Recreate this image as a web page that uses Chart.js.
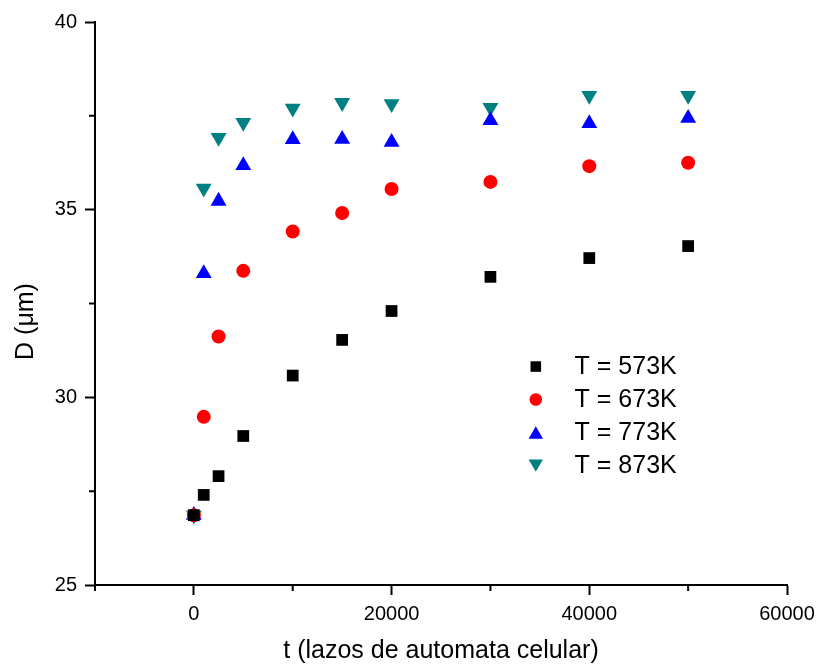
<!DOCTYPE html>
<html>
<head>
<meta charset="utf-8">
<script src="https://cdn.jsdelivr.net/npm/chart.js@4"></script>
<style>
  html, body { margin: 0; padding: 0; background: #fff; }
</style>
</head>
<body>
<canvas id="chart" width="818" height="664"></canvas>
<script>
  const steps = [0, 1000, 2500, 5000, 10000, 15000, 20000, 30000, 40000, 50000];
  const seriesNames = ["T = 573K", "T = 673K", "T = 773K", "T = 873K"];
  const d573 = [26.86, 27.40, 27.90, 28.97, 30.58, 31.53, 32.30, 33.21, 33.71, 34.03];
  const d673 = [26.86, 29.48, 31.62, 33.37, 34.42, 34.91, 35.55, 35.74, 36.16, 36.25];
  const d773 = [26.86, 33.30, 35.23, 36.18, 36.87, 36.88, 36.80, 37.38, 37.30, 37.44];
  const d873 = [26.86, 35.57, 36.92, 37.32, 37.70, 37.85, 37.82, 37.72, 38.04, 38.04];
  const xTicks = [0, 20000, 40000, 60000];
  const xMinor = [-10000, 10000, 30000, 50000];
  const yTicks = [25, 30, 35, 40];
  const yMinor = [27.5, 32.5, 37.5];
  const yTitle = "D (\u03bcm)";

  const family = "'Liberation Sans', Arial, sans-serif";

  function toPoints(vals) {
    return steps.map((t, i) => ({ x: t, y: vals[i] }));
  }

  function series(label, vals, color, style, radius, rotation) {
    return {
      label,
      data: toPoints(vals),
      showLine: false,
      backgroundColor: color,
      borderColor: color,
      pointStyle: style,
      pointRadius: radius,
      pointHoverRadius: radius,
      pointBorderWidth: 0,
      pointRotation: rotation || 0
    };
  }

  // small outward minor ticks between the labelled ones
  const minorTicks = {
    id: "minorTicks",
    afterDraw(chart) {
      const { ctx, scales: { x, y } } = chart;
      ctx.save();
      ctx.strokeStyle = "#000";
      ctx.lineWidth = 2;
      ctx.beginPath();
      xMinor.forEach(v => {
        const px = x.getPixelForValue(v);
        ctx.moveTo(px, x.top);
        ctx.lineTo(px, x.top + 6);
      });
      yMinor.forEach(v => {
        const py = y.getPixelForValue(v);
        ctx.moveTo(y.right, py);
        ctx.lineTo(y.right - 6, py);
      });
      ctx.stroke();
      ctx.restore();
    }
  };

  // y title sits a bit below the middle of the axis in the original
  const yAxisTitle = {
    id: "yAxisTitle",
    afterDraw(chart) {
      const { ctx, chartArea: a } = chart;
      ctx.save();
      ctx.translate(a.left - 69, (a.top + a.bottom) / 2 + 18);
      ctx.rotate(-Math.PI / 2);
      ctx.font = "25px " + family;
      ctx.fillStyle = "#000";
      ctx.textAlign = "center";
      ctx.textBaseline = "middle";
      ctx.fillText(yTitle, 0, 0);
      ctx.restore();
    }
  };

  // legend sitting inside the plot, like the original
  const markerLegend = {
    id: "markerLegend",
    afterDatasetsDraw(chart) {
      const { ctx, chartArea: a } = chart;
      const w = a.right - a.left, h = a.bottom - a.top;
      const mx = a.left + w * 0.637;
      const tx = a.left + w * 0.693;
      ctx.save();
      ctx.font = "25px " + family;
      ctx.textBaseline = "middle";
      ctx.textAlign = "left";
      chart.data.datasets.forEach((ds, i) => {
        const cy = a.top + h * 0.612 + i * 33;
        ctx.fillStyle = ds.backgroundColor;
        ctx.strokeStyle = ds.backgroundColor;
        Chart.helpers.drawPoint(ctx, {
          pointStyle: ds.pointStyle,
          radius: ds.pointRadius * 0.9,
          rotation: ds.pointRotation,
          borderWidth: 0
        }, mx, cy + (ds.pointStyle === "triangle" ? (ds.pointRotation ? -2 : 2) : 0));
        ctx.fillStyle = "#000";
        ctx.fillText(ds.label, tx, cy + 1);
      });
      ctx.restore();
    }
  };

  const ctx = document.getElementById("chart").getContext("2d");
  new Chart(ctx, {
    type: "scatter",
    data: {
      datasets: [
        series(seriesNames[0], d573, "#000000", "rect", 8.3),
        series(seriesNames[1], d673, "#ff0000", "circle", 7),
        series(seriesNames[2], d773, "#0000ff", "triangle", 9.2),
        series(seriesNames[3], d873, "#008080", "triangle", 9.2, 180)
      ]
    },
    options: {
      responsive: false,
      animation: false,
      devicePixelRatio: 1,
      layout: { padding: { left: 0, right: 31, top: 22, bottom: 0 } },
      plugins: {
        legend: { display: false },
        tooltip: { enabled: false }
      },
      scales: {
        x: {
          type: "linear",
          min: -10000,
          max: 60000,
          afterBuildTicks: s => { s.ticks = xTicks.map(v => ({ value: v })); },
          afterFit: s => {
            s.height = 79;
            // the last label may hang past the plot, as in the original
            s.paddingLeft = 0;
            s.paddingRight = 0;
          },
          grid: { drawOnChartArea: false, drawTicks: true, tickLength: 10, tickWidth: 2, tickColor: "#000" },
          border: { color: "#000", width: 2 },
          ticks: {
            color: "#000",
            font: { size: 20, family },
            padding: 7,
            maxRotation: 0,
            callback: v => String(v)
          },
          title: {
            display: true,
            text: "t (lazos de automata celular)",
            color: "#000",
            font: { size: 25, family, lineHeight: 1.0 },
            padding: { top: 0, bottom: 0 }
          }
        },
        y: {
          type: "linear",
          min: 25,
          max: 40,
          afterBuildTicks: s => { s.ticks = yTicks.map(v => ({ value: v })); },
          afterFit: s => { s.width = 95; },
          grid: { drawOnChartArea: false, drawTicks: true, tickLength: 10, tickWidth: 2, tickColor: "#000" },
          border: { color: "#000", width: 2 },
          ticks: {
            color: "#000",
            font: { size: 20, family },
            padding: 8,
            callback: v => String(v)
          },
          title: { display: false }
        }
      }
    },
    plugins: [minorTicks, yAxisTitle, markerLegend]
  });
</script>
</body>
</html>
